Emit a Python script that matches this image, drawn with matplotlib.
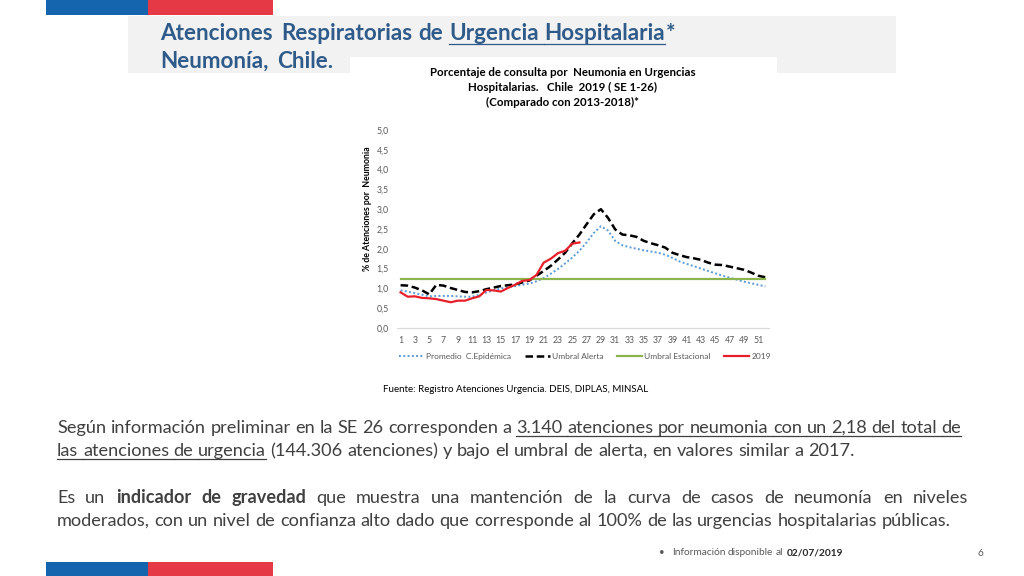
import matplotlib
matplotlib.use('Agg')
import matplotlib.pyplot as plt
from matplotlib.patches import Rectangle
from matplotlib.lines import Line2D

# datos (semanas epidemiologicas)
semanas = list(range(1, 53))
promedio = [0.95, 0.92, 0.88, 0.84, 0.80, 0.81, 0.81, 0.81, 0.80, 0.79,
            0.79, 0.84, 0.90, 0.95, 1.00, 1.03, 1.06, 1.09, 1.12, 1.18,
            1.26, 1.37, 1.49, 1.63, 1.78, 1.95, 2.16, 2.40, 2.57, 2.46,
            2.20, 2.09, 2.04, 2.00, 1.96, 1.93, 1.90, 1.85, 1.77, 1.68,
            1.62, 1.56, 1.50, 1.44, 1.38, 1.32, 1.27, 1.22, 1.17, 1.13,
            1.09, 1.05]
alerta = [1.08, 1.07, 1.02, 0.95, 0.85, 1.09, 1.07, 1.01, 0.96, 0.91,
          0.90, 0.93, 0.98, 1.02, 1.06, 1.08, 1.10, 1.15, 1.20, 1.32,
          1.44, 1.57, 1.73, 1.90, 2.14, 2.36, 2.62, 2.87, 3.00, 2.78,
          2.49, 2.36, 2.34, 2.30, 2.20, 2.14, 2.09, 2.03, 1.90, 1.84,
          1.79, 1.76, 1.72, 1.65, 1.60, 1.59, 1.55, 1.51, 1.47, 1.40,
          1.32, 1.28]
estacional = [1.25] * 52
y2019 = [0.90, 0.79, 0.80, 0.76, 0.75, 0.73, 0.69, 0.65, 0.69, 0.69,
         0.75, 0.80, 0.96, 0.95, 0.92, 1.01, 1.09, 1.19, 1.21, 1.34,
         1.65, 1.75, 1.89, 1.95, 2.13, 2.16]
yticks = [0, 0.5, 1, 1.5, 2, 2.5, 3, 3.5, 4, 4.5, 5]
xticks = list(range(1, 52, 2))

FONT = 'Lato'
AZUL = '#2F5B8A'
GRIS = '#595959'

fig = plt.figure(figsize=(10.24, 5.76), dpi=100)
fig.patch.set_facecolor('white')
r = fig.canvas.get_renderer()


def fx(px):
    return px / 1024


def fy(py):
    return 1 - py / 576


def rect(x, y, w, h, c):
    fig.add_artist(Rectangle((fx(x), fy(y + h)), w / 1024, h / 576,
                             transform=fig.transFigure, color=c, lw=0, zorder=-5))


def ancho(s, size, bold):
    t = fig.text(0, 0, s, fontsize=size, fontweight='bold' if bold else 'normal', family=FONT)
    w = t.get_window_extent(r).width
    t.remove()
    return w


def linea(segs, x0, base, size, color, target=None, ul_off=3):
    # segs: lista de (texto, negrita, subrayado)
    palabras = []
    for txt, b, u in segs:
        for p in txt.split(' '):
            if p:
                palabras.append((p, b, u))
    anchos = [ancho(p, size, b) for p, b, u in palabras]
    esp = ancho('x x', size, False) - ancho('xx', size, False)
    if target is not None and len(palabras) > 1:
        esp = (target - sum(anchos)) / (len(palabras) - 1)
    x = x0
    for i, (p, b, u) in enumerate(palabras):
        fig.text(fx(x), fy(base), p, fontsize=size, color=color, family=FONT,
                 fontweight='bold' if b else 'normal', va='baseline')
        if u:
            x2 = x + anchos[i]
            if i + 1 < len(palabras) and palabras[i + 1][2]:
                x2 += esp
            fig.add_artist(Line2D([fx(x), fx(x2)], [fy(base + ul_off)] * 2,
                                  transform=fig.transFigure, color=color, lw=0.9))
        x += anchos[i] + esp
    return x - esp


# barras de la bandera
rect(46, 0, 102, 15, '#1565AE')
rect(148, 0, 125, 15, '#E63946')
rect(46, 562, 102, 14, '#1565AE')
rect(148, 562, 125, 14, '#E63946')

# caja del titulo
rect(128, 16, 768, 57, '#F2F2F2')
rect(350, 57, 427, 345, 'white')

TT = 16.2
x = linea([('Atenciones', True, False)], 160, 40, TT, AZUL)
x = linea([('Respiratorias de', True, False), ('Urgencia Hospitalaria', True, True)],
          x + 9, 40, TT, AZUL, ul_off=4)
linea([('*', True, False)], x + 1, 40, TT, AZUL)
x = linea([('Neumonía,', True, False)], 160, 68, TT, AZUL)
linea([('Chile.', True, False)], x + 9, 68, TT, AZUL)

# titulo del grafico
for yy, s in [(72, 'Porcentaje de consulta por  Neumonia en Urgencias'),
              (87, 'Hospitalarias.   Chile  2019 ( SE 1-26)'),
              (102, '(Comparado con 2013-2018)*')]:
    fig.text(fx(563), fy(yy), s, ha='center', va='center', fontsize=8.3,
             fontweight='bold', family=FONT, color='black')

# grafico
ax = fig.add_axes([fx(397), fy(328), 372 / 1024, 198 / 576])
ax.set_facecolor('none')
ax.plot(semanas, promedio, ls=(0, (1, 1.2)), color='#5B9BD5', lw=1.4, label='Promedio  C.Epidémica')
ax.plot(semanas, alerta, ls=(0, (3, 1.5)), color='black', lw=1.8, label='Umbral Alerta')
ax.plot(semanas, estacional, color='#8CB44E', lw=1.6, label='Umbral Estacional')
ax.plot(semanas[:len(y2019)], y2019, color='#E8202A', lw=1.6, label='2019')
ax.set_xlim(0.5, 52.5)
ax.set_ylim(0, 5)
ax.set_yticks(yticks)
ax.set_yticklabels([f'{v:.1f}'.replace('.', ',') for v in yticks])
ax.set_xticks(xticks)
ax.tick_params(length=0, labelsize=6.3, labelcolor=GRIS, pad=6)
for t in ax.get_xticklabels() + ax.get_yticklabels():
    t.set_family(FONT)
for s in ['top', 'right', 'left']:
    ax.spines[s].set_visible(False)
ax.spines['bottom'].set_color('#D9D9D9')
fig.text(fx(367), fy(209), '% de Atenciones por  Neumonia', rotation=90, ha='center', va='center',
         fontsize=6.3, fontweight='bold', family=FONT)
leg = ax.legend(loc='center', bbox_to_anchor=(0.505, -0.145), ncol=4, frameon=False,
                prop={'family': FONT, 'size': 6.0}, handlelength=3.0, columnspacing=1.6, handletextpad=0.3)
for t in leg.get_texts():
    t.set_color(GRIS)

fig.text(fx(383), fy(389), 'Fuente: Registro Atenciones Urgencia. DEIS, DIPLAS, MINSAL',
         fontsize=7, family=FONT, va='center', color='black')

# texto inferior
TAM = 13.2
p1a = 'Según información preliminar en la SE 26 corresponden a'
p1b = '3.140 atenciones por neumonia con un 2,18 del total de'
w1 = ancho(p1a + ' ' + p1b, TAM, False)
TAM = TAM * 911 / w1
linea([(p1a, False, False), (p1b, False, True)], 57, 433, TAM, '#404040')
linea([('las atenciones de urgencia', False, True), ('(144.306 atenciones) y  bajo el umbral de alerta, en valores similar a 2017.', False, False)],
      57, 456, TAM, '#404040')
linea([('Es un', False, False), ('indicador de gravedad', True, False),
       ('que muestra una mantención de la curva de casos de neumonía en niveles', False, False)],
      57, 503, TAM, '#404040', target=911)
linea([('moderados, con  un nivel de confianza alto dado que corresponde al 100% de las urgencias hospitalarias públicas.', False, False)],
      57, 526, TAM, '#404040')

# pie
fig.text(fx(659), fy(552), '•', fontsize=7, color=GRIS, va='center', family=FONT)
x = linea([('Información disponible al', False, False)], 672, 555, 7.3, GRIS)
linea([('02/07/2019', True, False)], x + 3, 555, 7.3, '#262626')
fig.text(fx(978), fy(553), '6', fontsize=7.3, color=GRIS, va='center', family=FONT)

fig.savefig('out.png', dpi=100)
